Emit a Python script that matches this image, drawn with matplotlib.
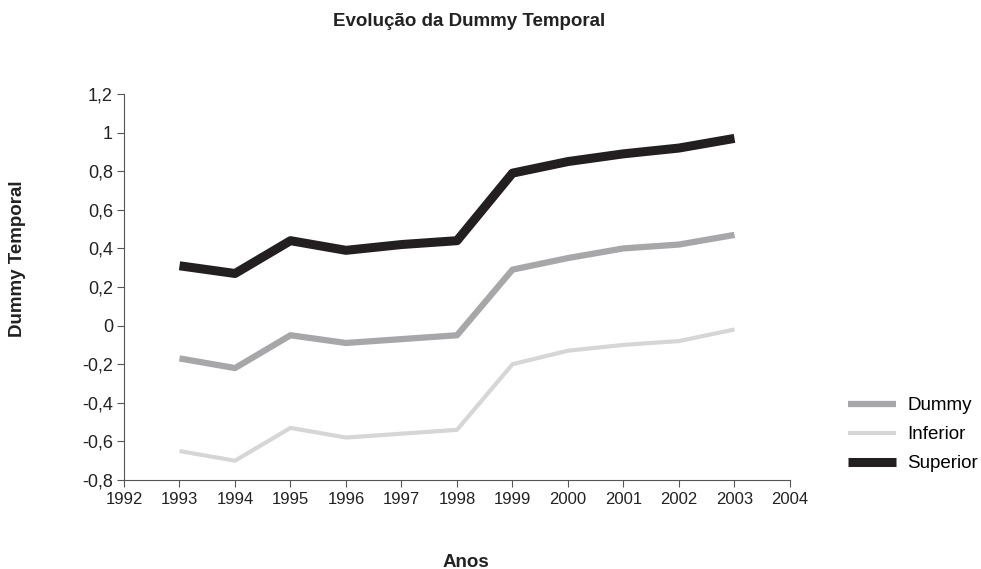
import matplotlib
matplotlib.use("Agg")
import matplotlib.pyplot as plt
from matplotlib.ticker import FuncFormatter

plt.rcParams['font.family'] = ['Liberation Sans', 'DejaVu Sans']

anos = [1993, 1994, 1995, 1996, 1997, 1998, 1999, 2000, 2001, 2002, 2003]
dummy = [-0.17, -0.22, -0.05, -0.09, -0.07, -0.05, 0.29, 0.35, 0.40, 0.42, 0.47]
inferior = [-0.65, -0.70, -0.53, -0.58, -0.56, -0.54, -0.20, -0.13, -0.10, -0.08, -0.02]
superior = [0.31, 0.27, 0.44, 0.39, 0.42, 0.44, 0.79, 0.85, 0.89, 0.92, 0.97]

fig = plt.figure(figsize=(9.81, 5.69), dpi=100)
ax = fig.add_axes([0.1264, 0.1564, 0.6789, 0.6784])

ax.plot(anos, dummy, color='#a7a7aa', lw=4.5, label='Dummy', solid_capstyle='butt')
ax.plot(anos, inferior, color='#d6d6d6', lw=3, label='Inferior', solid_capstyle='butt')
ax.plot(anos, superior, color='#231f20', lw=6.5, label='Superior', solid_capstyle='butt')

ax.set_xlim(1992, 2004)
ax.set_ylim(-0.8, 1.2)
ax.set_xticks(range(1992, 2005))
ax.set_yticks([-0.8, -0.6, -0.4, -0.2, 0, 0.2, 0.4, 0.6, 0.8, 1.0, 1.2])
ax.yaxis.set_major_formatter(FuncFormatter(lambda v, p: ('%g' % round(v, 1)).replace('.', ',')))

for s in ['top', 'right']:
    ax.spines[s].set_visible(False)
for s in ['left', 'bottom']:
    ax.spines[s].set_color('#555555')
    ax.spines[s].set_linewidth(0.8)
ax.tick_params(direction='out', length=5, width=0.8, color='#555555', colors='#222222')
ax.tick_params(axis='x', labelsize=12)
ax.tick_params(axis='y', labelsize=13, pad=3)

fig.text(0.478, 0.962, 'Evolução da Dummy Temporal', ha='center', va='center',
         fontsize=13.5, fontweight='bold', color='#222222')
fig.text(0.018, 0.545, 'Dummy Temporal', ha='center', va='center', rotation=90,
         fontsize=13.5, fontweight='bold', color='#222222')
fig.text(0.475, 0.012, 'Anos', ha='center', va='center',
         fontsize=13.5, fontweight='bold', color='#222222')

fig.legend(loc='center left', bbox_to_anchor=(0.864, 0.236), frameon=False,
           fontsize=13.5, handlelength=2.6, labelspacing=0.63, handletextpad=0.6,
           borderpad=0, borderaxespad=0)

fig.savefig('out.png', dpi=100)
